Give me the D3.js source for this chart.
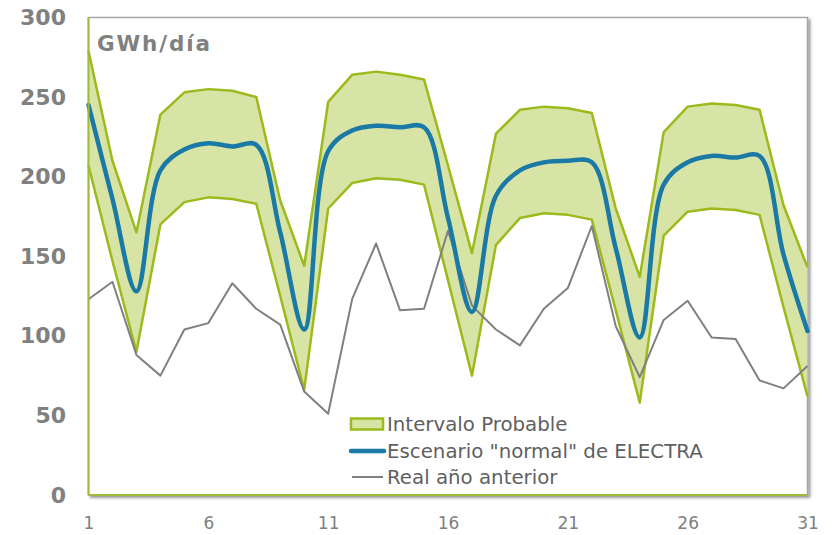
<!DOCTYPE html>
<html><head><meta charset="utf-8">
<script src="https://cdn.jsdelivr.net/npm/d3@7"></script>
<style>
html,body{margin:0;padding:0;background:#fff;}
svg{display:block;font-family:"DejaVu Sans",Verdana,sans-serif;}
</style></head>
<body>
<svg id="chart" width="832" height="535"></svg>
<script>
const days = d3.range(1, 32);
const xTicks = [1, 6, 11, 16, 21, 26, 31];
const yTicks = [0, 50, 100, 150, 200, 250, 300];
const upper  = [279,210,165,239,253,255,254,250,185,144,247,264,266,264,261,207,152,227,242,244,243,240,180,137,228,244,246,245,242,182,143];
const lower  = [207,147,90,170,184,187,186,183,125,66,180,196,199,198,195,135,75,157,174,177,176,173,116,58,163,178,180,179,176,118,62];
const normal = [245,186,128,204,217,221,219,220,165,104,216,229,232,231,231,174,115,188,204,209,210,209,155,99,195,209,213,212,213,151,103];
const real   = [123,134,88,75,104,108,133,117,107,65,51,123,158,116,117,166,119,104,94,117,130,169,106,74,110,122,99,98,72,67,81];
const unitLabel = "GWh/día";
const legendLabels = ["Intervalo Probable", "Escenario \"normal\" de ELECTRA", "Real año anterior"];

const svg = d3.select("#chart");
const L = 88.5, R = 807.5, T = 17.5, B = 495;
const x = d3.scaleLinear().domain([1, 31]).range([L, R]);
const y = d3.scaleLinear().domain([0, 300]).range([B, T]);

const band = days.map((d, i) => ({d, lo: lower[i], hi: upper[i]}));

// shadow filter
const defs = svg.append("defs");
const f = defs.append("filter").attr("id", "sh").attr("x", "-5%").attr("y", "-5%").attr("width", "110%").attr("height", "110%");
f.append("feGaussianBlur").attr("in", "SourceAlpha").attr("stdDeviation", 1.5);
f.append("feOffset").attr("dx", 2).attr("dy", 2).attr("result", "o");
f.append("feComponentTransfer").append("feFuncA").attr("type", "linear").attr("slope", 0.45);
const m = f.append("feMerge"); m.append("feMergeNode"); m.append("feMergeNode").attr("in", "SourceGraphic");

// plot frame
svg.append("rect").attr("x", L).attr("y", T).attr("width", R - L).attr("height", B - T)
  .attr("fill", "#fff").attr("stroke", "#a6a6a6").attr("stroke-width", 1.5).attr("filter", "url(#sh)");

// band
svg.append("path").datum(band)
  .attr("d", d3.area().x(p => x(p.d)).y0(p => y(p.lo)).y1(p => y(p.hi)))
  .attr("fill", "#d7e4a5");
const lineU = d3.line().x((v, i) => x(days[i])).y(v => y(v));
[upper, lower].forEach(s => {
  svg.append("path").datum(s).attr("d", lineU)
    .attr("fill", "none").attr("stroke", "#9cba1c").attr("stroke-width", 2.5).attr("stroke-linejoin", "round");
});

// real previous year
svg.append("path").datum(real).attr("d", lineU)
  .attr("fill", "none").attr("stroke", "#808080").attr("stroke-width", 2).attr("stroke-linejoin", "round");

// normal scenario (smoothed)
svg.append("path").datum(normal)
  .attr("d", d3.line().x((v, i) => x(days[i])).y(v => y(v)).curve(d3.curveCatmullRom.alpha(0.5)))
  .attr("fill", "none").attr("stroke", "#1b7aa5").attr("stroke-width", 4.5).attr("stroke-linecap", "round");

// left & bottom axis lines (green)
svg.append("line").attr("x1", L).attr("x2", L).attr("y1", T).attr("y2", B)
  .attr("stroke", "#9fbb3a").attr("stroke-width", 2);
svg.append("line").attr("x1", L).attr("x2", R).attr("y1", B).attr("y2", B)
  .attr("stroke", "#9fbb3a").attr("stroke-width", 2);

// y axis labels
const ya = svg.append("g").attr("transform", `translate(66,0)`)
  .call(d3.axisLeft(y).tickValues(yTicks).tickSize(0).tickPadding(0));
ya.select(".domain").remove();
ya.selectAll("text").attr("fill", "#808080").attr("font-size", 22).attr("font-weight", "bold")
  .attr("font-family", "'DejaVu Sans',Verdana,sans-serif");

// x axis labels
const xa = svg.append("g").attr("transform", `translate(0,${B + 22})`)
  .call(d3.axisBottom(x).tickValues(xTicks).tickSize(0).tickPadding(0).tickFormat(d3.format("d")));
xa.select(".domain").remove();
xa.selectAll("text").attr("fill", "#808080").attr("font-size", 17)
  .attr("font-family", "'DejaVu Sans',Verdana,sans-serif");

// unit label
svg.append("text").attr("x", 97).attr("y", 51).text(unitLabel)
  .attr("fill", "#808080").attr("font-size", 21.5).attr("font-weight", "bold")
  .attr("textLength", 113).attr("lengthAdjust", "spacing");

// legend
const lg = svg.append("g");
const ly = [424, 451, 477];
lg.append("rect").attr("x", 351).attr("y", ly[0] - 5.5).attr("width", 32).attr("height", 11)
  .attr("fill", "#d7e4a5").attr("stroke", "#9cba1c").attr("stroke-width", 2.5);
lg.append("line").attr("x1", 351).attr("x2", 384).attr("y1", ly[1]).attr("y2", ly[1])
  .attr("stroke", "#1b7aa5").attr("stroke-width", 4.5).attr("stroke-linecap", "round");
lg.append("line").attr("x1", 352).attr("x2", 383).attr("y1", ly[2]).attr("y2", ly[2])
  .attr("stroke", "#808080").attr("stroke-width", 2);
legendLabels.forEach((t, i) => {
  lg.append("text").attr("x", 387).attr("y", ly[i] + 7).text(t)
    .attr("fill", "#5f5f5f").attr("font-size", 19.8);
});
</script>
</body></html>
